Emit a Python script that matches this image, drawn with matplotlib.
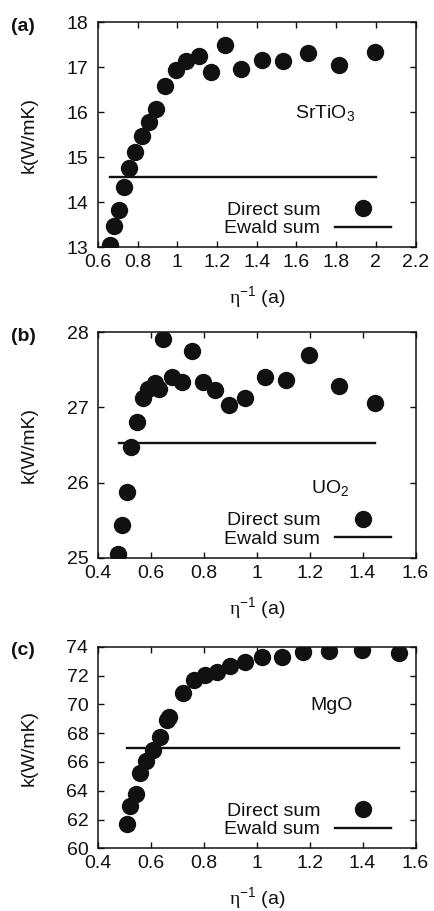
import matplotlib
matplotlib.use("Agg")
import matplotlib.pyplot as plt
from matplotlib.ticker import FuncFormatter, MultipleLocator

plt.rcParams["font.family"] = ["Liberation Sans", "DejaVu Sans"]
plt.rcParams["mathtext.fontset"] = "custom"
plt.rcParams["mathtext.rm"] = "Liberation Sans"
plt.rcParams["mathtext.it"] = "Liberation Sans"
plt.rcParams["mathtext.sf"] = "Liberation Serif"
plt.rcParams["mathtext.default"] = "regular"

# (a) SrTiO3
srtio3_x = [0.663, 0.683, 0.705, 0.730, 0.758, 0.788, 0.822, 0.858, 0.893, 0.938,
            0.993, 1.042, 1.107, 1.167, 1.240, 1.323, 1.428, 1.534, 1.658, 1.812, 1.995]
srtio3_k = [13.05, 13.47, 13.82, 14.33, 14.76, 15.12, 15.46, 15.78, 16.07, 16.59,
            16.93, 17.13, 17.25, 16.90, 17.50, 16.96, 17.15, 17.14, 17.31, 17.05, 17.33]
srtio3_ewald = 14.57
srtio3_ewald_x = [0.663, 2.0]

# (b) UO2
uo2_x = [0.476, 0.491, 0.510, 0.526, 0.547, 0.570, 0.589, 0.614, 0.629, 0.645,
         0.679, 0.716, 0.754, 0.798, 0.841, 0.896, 0.956, 1.030, 1.110, 1.199,
         1.312, 1.447]
uo2_k = [25.05, 25.44, 25.88, 26.48, 26.81, 27.12, 27.25, 27.32, 27.24, 27.91,
         27.40, 27.34, 27.75, 27.34, 27.23, 27.03, 27.12, 27.40, 27.37, 27.70,
         27.28, 27.06]
uo2_ewald = 26.53
uo2_ewald_x = [0.478, 1.447]

# (c) MgO
mgo_x = [0.510, 0.520, 0.544, 0.560, 0.583, 0.606, 0.633, 0.660, 0.670, 0.723,
         0.764, 0.804, 0.850, 0.898, 0.956, 1.021, 1.094, 1.176, 1.274, 1.396, 1.538]
mgo_k = [61.68, 62.97, 63.76, 65.21, 66.09, 66.83, 67.76, 68.90, 69.10, 70.76,
         71.69, 72.03, 72.27, 72.68, 72.96, 73.26, 73.31, 73.65, 73.72, 73.77, 73.54]
mgo_ewald = 66.95
mgo_ewald_x = [0.510, 1.538]

panels = [
    ("(a)", srtio3_x, srtio3_k, srtio3_ewald_x, srtio3_ewald, "SrTiO$_3$", (1.744, 15.98),
     (0.6, 2.2), (13, 18), 1, [0.2258, 0.7285, 0.7316, 0.2473]),
    ("(b)", uo2_x, uo2_k, uo2_ewald_x, uo2_ewald, "UO$_2$", (1.277, 25.93),
     (0.4, 1.6), (25, 28), 1, [0.2258, 0.3875, 0.7316, 0.2478]),
    ("(c)", mgo_x, mgo_k, mgo_ewald_x, mgo_ewald, "MgO", (1.282, 69.95),
     (0.4, 1.6), (60, 74), 2, [0.2258, 0.0688, 0.7316, 0.2213]),
]

FS = 14
INK = "#111111"

fig = plt.figure(figsize=(4.34, 9.11), dpi=100, facecolor="white")

for tag, xs, ks, ex, ev, name, name_xy, xlim, ylim, ystep, rect in panels:
    ax = fig.add_axes(rect)
    h_px = rect[3] * 911
    ax.plot(xs, ks, "o", color=INK, markersize=12.5, markeredgewidth=0,
            label="Direct sum", zorder=3)
    ax.plot(ex, [ev, ev], "-", color=INK, linewidth=1.7, label="Ewald sum")
    ax.set_xlim(*xlim)
    ax.set_ylim(*ylim)
    ax.xaxis.set_major_locator(MultipleLocator(0.2))
    ax.yaxis.set_major_locator(MultipleLocator(ystep))
    ax.xaxis.set_major_formatter(FuncFormatter(lambda v, _: f"{v:g}"))
    ax.yaxis.set_major_formatter(FuncFormatter(lambda v, _: f"{v:g}"))
    ax.tick_params(direction="in", length=4.5, width=1.0, top=True, right=True,
                   labelsize=FS, colors=INK)
    ax.tick_params(axis="x", pad=5)
    ax.tick_params(axis="y", pad=7)
    for sp in ax.spines.values():
        sp.set_linewidth(1.1)
        sp.set_edgecolor(INK)
    ax.set_xlabel(r"$\mathsf{η}^{-1}$ (a)", fontsize=FS, color=INK)
    ax.xaxis.set_label_coords(0.5, -37 / h_px)
    ax.set_ylabel("k(W/mK)", fontsize=FS, color=INK)
    ax.yaxis.set_label_coords(-0.19, 0.5)
    ax.text(name_xy[0], name_xy[1], name, fontsize=FS, ha="center", va="center",
            color=INK)
    ax.legend(loc="lower right", bbox_to_anchor=(0.923, 10 / h_px), frameon=False,
              markerfirst=False, fontsize=FS, handlelength=2.9, handletextpad=0.75,
              labelspacing=0.05, borderaxespad=0, borderpad=0, numpoints=1,
              labelcolor=INK)
    top_px = (1 - rect[1] - rect[3]) * 911
    fig.text(11 / 434, 1 - (top_px + 4) / 911, tag, fontsize=FS, fontweight="bold",
             ha="left", va="center", color=INK)

fig.savefig("out.png", dpi=100, facecolor="white")
